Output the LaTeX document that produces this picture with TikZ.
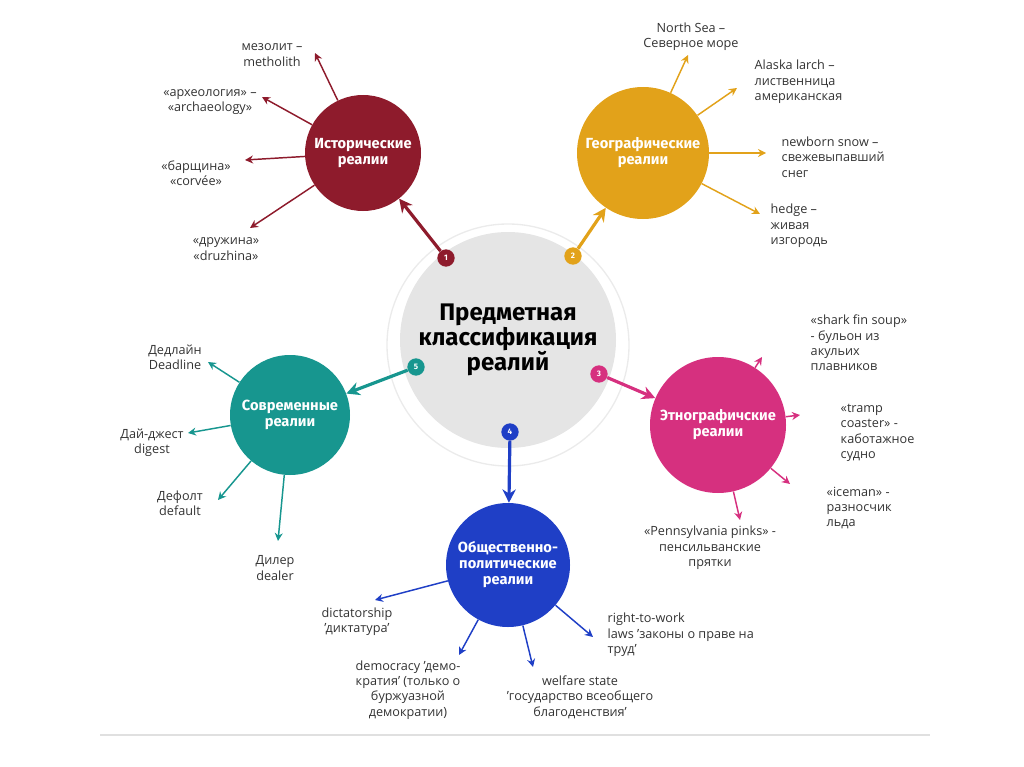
\documentclass[tikz,border=0pt]{standalone}
\usepackage{fontspec}
\setmainfont{Open Sans}
\newfontfamily\headf{Fira Sans}
\newcommand\qs{\char"0027\relax}
\usetikzlibrary{arrows.meta}
\definecolor{chist}{HTML}{8E1B2C}
\definecolor{cgeo}{HTML}{E2A21A}
\definecolor{ceth}{HTML}{D6307F}
\definecolor{csoc}{HTML}{1F3FC6}
\definecolor{cmod}{HTML}{17968F}
\tikzset{
 topic/.style={circle,fill=#1,text=white,font=\headf\bfseries\fontsize{11}{12}\selectfont,align=center,inner sep=0pt},
 badge/.style={circle,fill=#1,text=white,font=\headf\bfseries\fontsize{6}{6}\selectfont,minimum size=13pt,inner sep=0pt},
 leaf/.style={font=\fontsize{9.5}{11.5}\selectfont,align=center,text=black!80},
 arr/.style={draw=#1,line width=1.1pt,-{Stealth[length=6pt,width=6pt]}},
 big/.style={draw=#1,line width=2.4pt,-{Stealth[length=10pt,width=10pt]}}
}
\begin{document}
\begin{tikzpicture}[x=0.75pt,y=-0.75pt]
\useasboundingbox (0,0) rectangle (1024,767);
\draw[black!12,line width=0.8pt] (100,735) -- (930,735);
\draw[black!8,line width=1pt] (508,345) circle (121);
\node[circle,fill=black!10,minimum size=216*0.75pt,inner sep=0pt,font=\headf\bfseries\fontsize{18}{19}\selectfont,align=center] (c) at (508,340) {Предметная\\классификация\\реалий};
\node[topic=chist,minimum size=116*0.75pt] (h) at (363,153) {Исторические\\реалии};
\node[topic=cgeo,minimum size=132*0.75pt] (g) at (643,153) {Географические\\реалии};
\node[topic=ceth,minimum size=136*0.75pt] (e) at (718,425) {Этнографичские\\реалии};
\node[topic=csoc,minimum size=124*0.75pt] (s) at (508,565) {Общественно-\\политические\\реалии};
\node[topic=cmod,minimum size=120*0.75pt] (m) at (290,415) {Современные\\реалии};
\node[badge=chist] (b1) at (446,258) {1};
\node[badge=cgeo] (b2) at (573,256) {2};
\node[badge=ceth] (b3) at (599,374) {3};
\node[badge=csoc] (b4) at (510,432) {4};
\node[badge=cmod] (b5) at (416,367) {5};
\draw[big=chist] (b1) -- (h);
\draw[big=cgeo] (b2) -- (g);
\draw[big=ceth] (b3) -- (e);
\draw[big=csoc] (b4) -- (s);
\draw[big=cmod] (b5) -- (m);
% historical
\node[leaf] (h1) at (272,55) {мезолит –\\metholith};
\node[leaf] (h2) at (210,102) {«археология» –\\«archaeology»};
\node[leaf] (h3) at (196,173) {«барщина»\\«corvée»};
\node[leaf] (h4) at (226,249) {«дружина»\\«druzhina»};
\coordinate (h1e) at (315,53); \coordinate (h2e) at (262,97);
\coordinate (h3e) at (245,160); \coordinate (h4e) at (250,228);
\foreach \i in {1,...,4} \draw[arr=chist] (h) -- (h\i e);
% geographic
\node[leaf] (g1) at (691,37) {North Sea –\\Северное море};
\node[leaf,align=left,anchor=west] (g2) at (750,82) {Alaska larch –\\лиственница\\американская};
\node[leaf,align=left,anchor=west] (g3) at (777,157) {newborn snow –\\свежевыпавший\\снег};
\node[leaf,align=left,anchor=west] (g4) at (766,226) {hedge –\\живая\\изгородь};
\coordinate (g1e) at (688,55); \coordinate (g2e) at (737,88);
\coordinate (g3e) at (766,153); \coordinate (g4e) at (760,214);
\foreach \i in {1,...,4} \draw[arr=cgeo] (g) -- (g\i e);
% ethnographic
\node[leaf,align=left,anchor=west] (e1) at (806,343) {«shark fin soup»\\- бульон из\\акульих\\плавников};
\node[leaf,align=left,anchor=west] (e2) at (836,433) {«tramp\\coaster» -\\каботажное\\судно};
\node[leaf,align=left,anchor=west] (e3) at (822,508) {«iceman» -\\разносчик\\льда};
\node[leaf] (e4) at (710,548) {«Pennsylvania pinks» -\\пенсильванские\\прятки};
\coordinate (e1e) at (762,357); \coordinate (e2e) at (800,415);
\coordinate (e3e) at (790,484); \coordinate (e4e) at (740,520);
\foreach \i in {1,...,4} \draw[arr=ceth] (e) -- (e\i e);
% social
\node[leaf] (s1) at (357,622) {dictatorship\\\qs диктатура\qs};
\node[leaf] (s2) at (408,690) {democracy \qs демо-\\кратия\qs{} (только о\\буржуазной\\демократии)};
\node[leaf] (s3) at (580,697) {welfare state\\\qs государство всеобщего\\благоденствия\qs};
\node[leaf,align=left,anchor=west] (s4) at (603,635) {right-to-work\\laws \qs законы о праве на\\труд\qs};
\coordinate (s1e) at (375,600); \coordinate (s2e) at (459,655);
\coordinate (s3e) at (533,667); \coordinate (s4e) at (593,637);
\foreach \i in {1,...,4} \draw[arr=csoc] (s) -- (s\i e);
% modern
\node[leaf] (m1) at (175,357) {Дедлайн\\Deadline};
\node[leaf] (m2) at (152,443) {Дай-джест\\digest};
\node[leaf] (m3) at (180,503) {Дефолт\\default};
\node[leaf] (m4) at (275,568) {Дилер\\dealer};
\coordinate (m1e) at (208,362); \coordinate (m2e) at (188,433);
\coordinate (m3e) at (218,500); \coordinate (m4e) at (278,541);
\foreach \i in {1,...,4} \draw[arr=cmod] (m) -- (m\i e);
\end{tikzpicture}
\end{document}
